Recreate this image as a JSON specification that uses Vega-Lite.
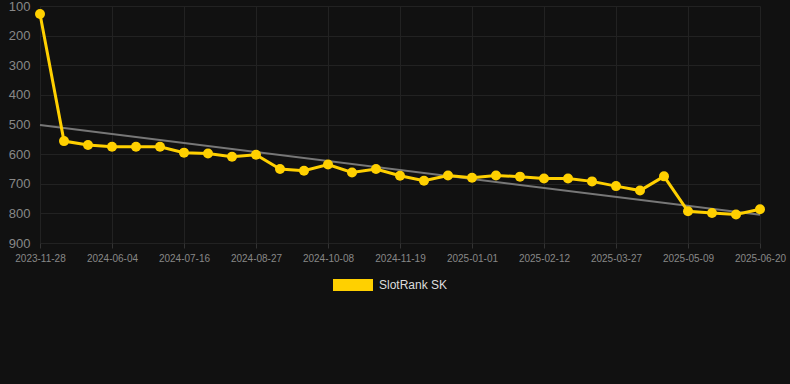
{
  "$schema": "https://vega.github.io/schema/vega-lite/v6.json",
  "width": 750,
  "height": 237,
  "autosize": "none",
  "padding": {"left": 40, "top": 6, "right": 0, "bottom": 141},
  "background": "#111111",
  "config": {
    "view": {"stroke": null},
    "font": "Liberation Sans",
    "axis": {"gridColor": "#222222", "domain": false, "labelColor": "#888888"},
    "legend": {
      "symbolType": "M-1,-0.3H1V0.3H-1Z",
      "symbolSize": 1600,
      "symbolStrokeWidth": 0,
      "symbolFillColor": "#ffd000",
      "symbolOpacity": 1
    }
  },
  "datasets": {
    "rank": [
      {"date": "2023-11-28", "rank": 127, "series": "SlotRank SK"},
      {"date": "2024-05-07", "rank": 556, "series": "SlotRank SK"},
      {"date": "2024-05-21", "rank": 569, "series": "SlotRank SK"},
      {"date": "2024-06-04", "rank": 575, "series": "SlotRank SK"},
      {"date": "2024-06-18", "rank": 575, "series": "SlotRank SK"},
      {"date": "2024-07-02", "rank": 575, "series": "SlotRank SK"},
      {"date": "2024-07-16", "rank": 595, "series": "SlotRank SK"},
      {"date": "2024-07-30", "rank": 598, "series": "SlotRank SK"},
      {"date": "2024-08-13", "rank": 609, "series": "SlotRank SK"},
      {"date": "2024-08-27", "rank": 602, "series": "SlotRank SK"},
      {"date": "2024-09-10", "rank": 650, "series": "SlotRank SK"},
      {"date": "2024-09-24", "rank": 656, "series": "SlotRank SK"},
      {"date": "2024-10-08", "rank": 635, "series": "SlotRank SK"},
      {"date": "2024-10-22", "rank": 662, "series": "SlotRank SK"},
      {"date": "2024-11-05", "rank": 650, "series": "SlotRank SK"},
      {"date": "2024-11-19", "rank": 673, "series": "SlotRank SK"},
      {"date": "2024-12-03", "rank": 690, "series": "SlotRank SK"},
      {"date": "2024-12-17", "rank": 672, "series": "SlotRank SK"},
      {"date": "2025-01-01", "rank": 680, "series": "SlotRank SK"},
      {"date": "2025-01-15", "rank": 672, "series": "SlotRank SK"},
      {"date": "2025-01-29", "rank": 676, "series": "SlotRank SK"},
      {"date": "2025-02-12", "rank": 682, "series": "SlotRank SK"},
      {"date": "2025-02-26", "rank": 682, "series": "SlotRank SK"},
      {"date": "2025-03-12", "rank": 692, "series": "SlotRank SK"},
      {"date": "2025-03-27", "rank": 708, "series": "SlotRank SK"},
      {"date": "2025-04-10", "rank": 723, "series": "SlotRank SK"},
      {"date": "2025-04-24", "rank": 675, "series": "SlotRank SK"},
      {"date": "2025-05-09", "rank": 793, "series": "SlotRank SK"},
      {"date": "2025-05-23", "rank": 799, "series": "SlotRank SK"},
      {"date": "2025-06-06", "rank": 804, "series": "SlotRank SK"},
      {"date": "2025-06-20", "rank": 786, "series": "SlotRank SK"}
    ],
    "trend": [
      {"date": "2023-11-28", "rank": 502},
      {"date": "2025-06-20", "rank": 805}
    ]
  },
  "encoding": {
    "x": {
      "field": "date",
      "type": "ordinal",
      "scale": {"type": "point", "range": [0, 720], "padding": 0},
      "axis": {
        "title": null,
        "values": ["2023-11-28", "2024-06-04", "2024-07-16", "2024-08-27", "2024-10-08", "2024-11-19", "2025-01-01", "2025-02-12", "2025-03-27", "2025-05-09", "2025-06-20"],
        "labelAngle": 0,
        "labelFontSize": 10,
        "labelPadding": 5,
        "tickSize": 5,
        "tickColor": "#333333",
        "grid": true
      }
    },
    "y": {
      "field": "rank",
      "type": "quantitative",
      "scale": {"domain": [100, 900], "reverse": true, "nice": false, "zero": false},
      "axis": {
        "title": null,
        "values": [100, 200, 300, 400, 500, 600, 700, 800, 900],
        "labelFontSize": 13,
        "labelPadding": 10,
        "ticks": false,
        "grid": true
      }
    }
  },
  "layer": [
    {
      "data": {"name": "trend"},
      "mark": {"type": "line", "color": "#777777", "strokeWidth": 2}
    },
    {
      "data": {"name": "rank"},
      "mark": {"type": "line", "strokeWidth": 3, "point": {"filled": true, "size": 100}},
      "encoding": {
        "color": {
          "field": "series",
          "type": "nominal",
          "scale": {"range": ["#ffd000"]},
          "legend": {
            "title": null,
            "orient": "none",
            "legendX": 293,
            "legendY": 259,
            "symbolType": "M-1,-0.3H1V0.3H-1Z",
            "symbolSize": 1600,
            "symbolStrokeWidth": 0,
            "labelColor": "#dddddd",
            "labelFontSize": 12,
            "labelOffset": 6
          }
        }
      }
    }
  ]
}
